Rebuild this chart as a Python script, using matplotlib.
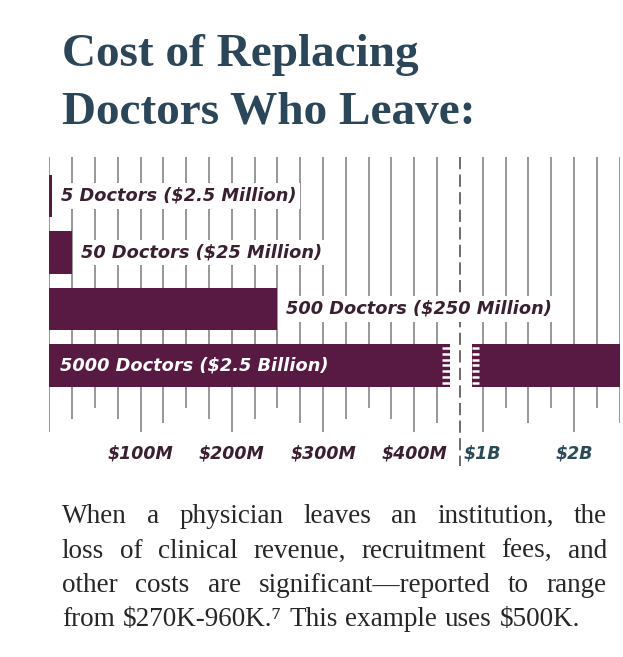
import numpy as np
import matplotlib
matplotlib.use('Agg')
from matplotlib import pyplot as plt

# data ($ millions)
bar_labels = ['5 Doctors (\\$2.5 Million)', '50 Doctors (\\$25 Million)',
              '500 Doctors (\\$250 Million)', '5000 Doctors (\\$2.5 Billion)']
cost_m = [2.5, 25, 250, 2500]

tick_vals = [100, 200, 300, 400, 1000, 2000]
tick_labels = ['\\$100M', '\\$200M', '\\$300M', '\\$400M', '\\$1B', '\\$2B']

# ruler lines behind the bars, every 25M left of the break, every 250M right of it
ruler_left = np.arange(0, 450, 25)
ruler_right = np.arange(1000, 2501, 250)
# how far each ruler line hangs below the bars (0 long, 1 mid, 2 short, 3 mid-long)
depth_left = [0, 1, 2, 1, 0, 3, 2, 1, 0, 1, 2, 3, 0, 1, 2, 1, 0, 3]
depth_right = [0, 2, 3, 2, 0, 2, 3]

title_lines = ['Cost of Replacing', 'Doctors Who Leave:']
body_lines = [
    'When a physician leaves an institution, the',
    'loss of clinical revenue, recruitment fees, and',
    'other costs are significant\u2014reported to range',
    'from \\$270K-960K.\u2077 This example uses \\$500K.',
]

BAR = '#581a42'
LABEL = '#3a1f31'
TEAL = '#2b4a58'
TITLE = '#2a4658'
GRID = '#7a7a7a'

# broken axis: 450M..750M is cut out, right part squeezed 10x
BREAK_LO, BREAK_HI, SQUEEZE = 450.0, 750.0, 10.0


def fwd(v):
    v = np.asarray(v, dtype=float)
    return np.where(v <= BREAK_LO, v,
                    np.where(v >= BREAK_HI, BREAK_LO + (v - BREAK_HI) / SQUEEZE, BREAK_LO))


def inv(t):
    t = np.asarray(t, dtype=float)
    return np.where(t <= BREAK_LO, t, BREAK_HI + (t - BREAK_LO) * SQUEEZE)


W, H = 623, 657
fig = plt.figure(figsize=(W / 100, H / 100), dpi=100)
fig.patch.set_facecolor('white')

ax = fig.add_axes([49.3 / W, 1 - 470 / H, 570.3 / W, 320 / H])
ax.set_xscale('function', functions=(fwd, inv))
ax.set_xlim(0, 2500)
ax.set_ylim(4.85, -0.814)
ax.axis('off')

# ruler
top = -0.69
depth_y = {0: 4.17, 1: 3.94, 2: 3.75, 3: 4.02}
ax.vlines(ruler_left, top, [depth_y[d] for d in depth_left], color=GRID, lw=1.1, zorder=1)
ax.vlines(ruler_right, top, [depth_y[d] for d in depth_right], color=GRID, lw=1.1, zorder=1)

# bars
y = np.arange(len(cost_m))
ax.barh(y, cost_m, height=0.75, color=BAR, zorder=3)

lab_kw = dict(ha='left', va='center', fontsize=12.8, fontweight='heavy',
              fontstyle='italic', zorder=5)
for i, (c, lab) in enumerate(zip(cost_m, bar_labels)):
    if i < len(cost_m) - 1:
        ax.annotate(lab, (c, i), xytext=(6.5, 0), textcoords='offset points',
                    color=LABEL, bbox=dict(boxstyle='square,pad=0.2', fc='white', ec='none'),
                    **lab_kw)
    else:
        ax.annotate(lab, (0, i), xytext=(8, 0), textcoords='offset points',
                    color='white', **lab_kw)

# cut in the long bar with comb edges
gap_l, gap_r = float(inv(439.5)), float(inv(463.0))
ax.barh(y[-1], gap_r - gap_l, left=gap_l, height=0.78, color='white', zorder=4)
stripes = y[-1] + np.arange(-3, 4) * 0.104
ax.hlines(stripes, float(inv(430.5)), gap_l, color='white', lw=1.8, zorder=4)
ax.hlines(stripes, gap_r, float(inv(470.5)), color='white', lw=1.8, zorder=4)

# dashed break line (under the labels, over the cut)
ax.vlines(BREAK_LO, top, 4.78, color='#444444', lw=1.1,
          linestyles=(0, (8, 3.5)), zorder=4.5)

# tick labels
for v, lab in zip(tick_vals, tick_labels):
    ax.text(v, 4.55, lab, ha='center', va='center', fontsize=12.5,
            fontweight='bold', fontstyle='italic',
            color=LABEL if v < BREAK_LO else TEAL, zorder=5)

# title
serif = ['Liberation Serif', 'DejaVu Serif']
for k, line in enumerate(title_lines):
    fig.text(62 / W, 1 - (66 + 58 * k) / H, line, ha='left', va='baseline',
             fontsize=34, fontweight='bold', family=serif, color=TITLE)

# body text, justified by hand
renderer = fig.canvas.get_renderer()
x0, x1 = 62.0, 607.0
base0, lead = 523.0, 34.5
body_kw = dict(fontsize=19.5, family=serif, color='#262626', va='baseline', ha='left')
sp = fig.text(0, 0, 'a a', **body_kw)
aa = fig.text(0, 0, 'aa', **body_kw)
space_w = sp.get_window_extent(renderer).width - aa.get_window_extent(renderer).width
sp.remove()
aa.remove()
for k, line in enumerate(body_lines):
    words = line.split(' ')
    texts = [fig.text(0, 0, w, **body_kw) for w in words]
    widths = [t.get_window_extent(renderer).width for t in texts]
    if k < len(body_lines) - 1:
        gap = (x1 - x0 - sum(widths)) / (len(words) - 1)
    else:
        gap = space_w * 1.15
    x = x0
    for t, w in zip(texts, widths):
        t.set_position((x / W, 1 - (base0 + lead * k) / H))
        x += w + gap

fig.savefig('out.png', dpi=100, facecolor='white')
